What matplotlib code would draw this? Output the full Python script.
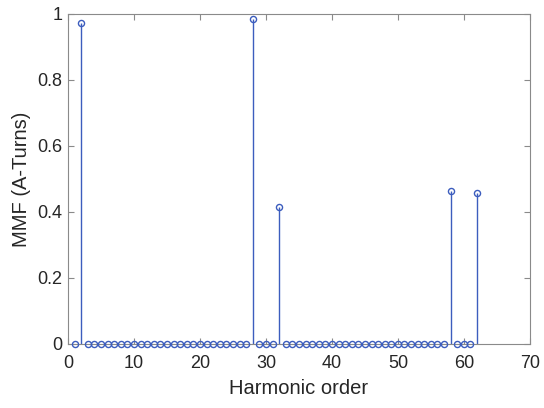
import numpy as np
import matplotlib
matplotlib.use('Agg')
import matplotlib.pyplot as plt

# Harmonic spectrum of the MMF
harmonic_order = np.arange(1, 63)
mmf = [
    0.0, 0.973, 0.0, 0.0, 0.0, 0.0, 0.0, 0.0, 0.0, 0.0,
    0.0, 0.0, 0.0, 0.0, 0.0, 0.0, 0.0, 0.0, 0.0, 0.0,
    0.0, 0.0, 0.0, 0.0, 0.0, 0.0, 0.0, 0.985, 0.0, 0.0,
    0.0, 0.414, 0.0, 0.0, 0.0, 0.0, 0.0, 0.0, 0.0, 0.0,
    0.0, 0.0, 0.0, 0.0, 0.0, 0.0, 0.0, 0.0, 0.0, 0.0,
    0.0, 0.0, 0.0, 0.0, 0.0, 0.0, 0.0, 0.463, 0.0, 0.0,
    0.0, 0.458,
]
x_ticks = [0, 10, 20, 30, 40, 50, 60, 70]
y_ticks = [0, 0.2, 0.4, 0.6, 0.8, 1.0]
y_tick_labels = ['0', '0.2', '0.4', '0.6', '0.8', '1']

STEM_BLUE = '#3C5DBE'
TEXT_GREY = '#262626'
AXIS_GREY = '#8a8a8a'

plt.rcParams['font.family'] = ['Liberation Sans', 'DejaVu Sans']

fig = plt.figure(figsize=(5.44, 4.08), dpi=100)
ax = fig.add_axes([0.125, 0.157, 0.849, 0.809])

markerline, stemlines, baseline = ax.stem(harmonic_order, mmf, basefmt=' ')
plt.setp(stemlines, color=STEM_BLUE, linewidth=1.0)
plt.setp(markerline, color=STEM_BLUE, marker='o', markersize=4.4,
         markerfacecolor='none', markeredgewidth=1.0, clip_on=False, zorder=3)

ax.set_xlim(0, 70)
ax.set_ylim(0, 1)
ax.set_xticks(x_ticks)
ax.set_yticks(y_ticks)
ax.set_yticklabels(y_tick_labels)

for sp in ax.spines.values():
    sp.set_color(AXIS_GREY)
    sp.set_linewidth(0.8)
ax.tick_params(direction='in', length=4, width=0.8, color=AXIS_GREY,
               labelcolor=TEXT_GREY, labelsize=13, top=True, right=True)
ax.tick_params(axis='x', pad=8)
ax.tick_params(axis='y', pad=4)

ax.set_xlabel('Harmonic order', fontsize=14.5, color=TEXT_GREY)
ax.set_ylabel('MMF (A-Turns)', fontsize=14.5, color=TEXT_GREY)
ax.xaxis.set_label_coords(0.5, -0.106)
ax.yaxis.set_label_coords(-0.08, 0.5)

fig.savefig('out.png', dpi=100)
